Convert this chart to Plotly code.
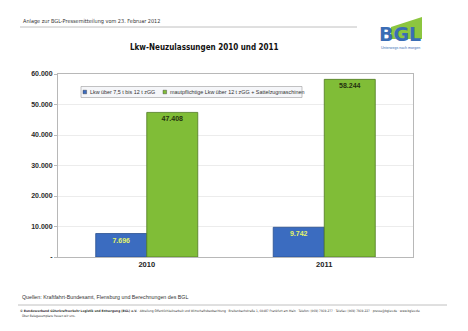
import plotly.graph_objects as go

# --- data -------------------------------------------------------------
years = ["2010", "2011"]
series_names = [
    "Lkw über 7,5 t bis 12 t zGG",
    "mautpflichtige Lkw über 12 t zGG + Sattelzugmaschinen",
]
lkw_7_5_bis_12 = [7696, 9742]
lkw_ueber_12 = [47408, 58244]
tick_values = [0, 10000, 20000, 30000, 40000, 50000, 60000]
tick_labels = ["-", "10.000", "20.000", "30.000", "40.000", "50.000", "60.000"]

title_text = "Lkw-Neuzulassungen 2010 und 2011"
header_text = "Anlage zur BGL-Pressemitteilung vom 23. Februar 2012"
source_text = "Quellen: Kraftfahrt-Bundesamt, Flensburg und Berechnungen des BGL"
footer_line1 = ("<b>© Bundesverband Güterkraftverkehr Logistik und Entsorgung (BGL) e.V.</b> · "
                "Abteilung Öffentlichkeitsarbeit und Wirtschaftsbeobachtung · Breitenbachstraße 1, "
                "60487 Frankfurt am Main · Telefon: (069) 7919-277 · Telefax: (069) 7919-227 · "
                "presse@bglev.de · www.bglev.de")
footer_line2 = "Über Belegexemplare freuen wir uns."


def fmt(v):
    return f"{v:,}".replace(",", ".")


# --- page geometry (pixels) ------------------------------------------
W, H = 468, 331
L, R, T, B = 58, 413, 74, 257


def px(x):
    return (x - L) / (R - L)


def py(y):
    return (B - y) / (B - T)


BLUE = "#3b6cc0"
GREEN = "#80bd37"
colors = [BLUE, GREEN]

fig = go.Figure()
fig.add_trace(go.Bar(
    x=years, y=lkw_7_5_bis_12, name=series_names[0],
    marker=dict(color=BLUE, line=dict(color="#2a4f8f", width=0.8)),
    text=[fmt(v) for v in lkw_7_5_bis_12], textposition="inside",
    insidetextanchor="end",
    textfont=dict(color="#e4f46a", size=7, family="Liberation Sans", weight="bold"),
))
fig.add_trace(go.Bar(
    x=years, y=lkw_ueber_12, name=series_names[1],
    marker=dict(color=GREEN, line=dict(color="#4f7a22", width=0.8)),
    text=[fmt(v) for v in lkw_ueber_12], textposition="inside",
    insidetextanchor="end",
    textfont=dict(color="#26330f", size=7, family="Liberation Sans", weight="bold"),
))

fig.update_layout(
    width=W, height=H,
    margin=dict(l=L, r=W - R, t=T, b=H - B),
    paper_bgcolor="white", plot_bgcolor="white",
    barmode="group", bargap=0.425, bargroupgap=0,
    showlegend=False,
    uniformtext=dict(minsize=5, mode="show"),
)
fig.update_xaxes(
    type="category", showline=True, linecolor="#b8b8b8", linewidth=1, mirror=True,
    ticks="", tickfont=dict(size=7.5, family="Liberation Sans", color="#222", weight="bold"),
)
fig.update_yaxes(
    range=[0, 60000], tickvals=tick_values, ticktext=tick_labels,
    showgrid=True, gridcolor="#ececec", gridwidth=1,
    showline=True, linecolor="#b8b8b8", linewidth=1, mirror=True,
    ticks="outside", ticklen=3, tickcolor="#b8b8b8",
    tickfont=dict(size=7, family="Liberation Sans", color="#2a2a2a", weight="bold"),
    zeroline=False,
)

ann = []
shapes = []

# compact legend box with the two series
shapes.append(dict(type="rect", xref="paper", yref="paper",
                   x0=px(81), x1=px(302), y0=py(97.5), y1=py(86.5),
                   fillcolor="#f5f6f9", line=dict(color="#9a9a9a", width=0.6)))
legend_x = [83, 163]
for name, col, lx in zip(series_names, colors, legend_x):
    shapes.append(dict(type="rect", xref="paper", yref="paper",
                       x0=px(lx), x1=px(lx + 3.6), y0=py(93.8), y1=py(90.2),
                       fillcolor=col, line=dict(color="#333", width=0.4)))
    ann.append(dict(text=name, x=px(lx + 4.5), y=py(92), xref="paper", yref="paper",
                    xanchor="left", yanchor="middle", showarrow=False,
                    font=dict(size=5.4, family="Liberation Sans", color="#333")))

# header line and text
ann.append(dict(text=header_text, x=px(21), y=py(22), xref="paper", yref="paper",
                xanchor="left", yanchor="middle", showarrow=False,
                font=dict(size=5.5, family="DejaVu Sans Condensed", color="#333")))
shapes.append(dict(type="line", xref="paper", yref="paper",
                   x0=px(20), x1=px(357), y0=py(27), y1=py(27),
                   line=dict(color="#b0b0b0", width=0.8)))

# chart title
ann.append(dict(text="<b>" + title_text + "</b>", x=px(204), y=py(47), xref="paper", yref="paper",
                xanchor="center", yanchor="middle", showarrow=False,
                font=dict(size=8, family="DejaVu Sans Condensed", color="#111")))

# BGL logo
shapes.append(dict(type="path", xref="paper", yref="paper",
                   path=f"M {px(391)} {py(39)} L {px(391)} {py(27)} L {px(422)} {py(17)} "
                        f"L {px(422)} {py(39)} Z",
                   fillcolor="#8cc63f", line=dict(width=0)))
ann.append(dict(text="<b>BGL</b>", x=px(400), y=py(34), xref="paper", yref="paper",
                xanchor="center", yanchor="middle", showarrow=False,
                font=dict(size=19, family="DejaVu Sans", color="#3a6db5")))
ann.append(dict(text="Unterwegs nach morgen", x=px(400), y=py(48.5), xref="paper", yref="paper",
                xanchor="center", yanchor="middle", showarrow=False,
                font=dict(size=3.6, family="Liberation Sans", color="#3a6db5")))

# sources and footer
ann.append(dict(text=source_text, x=px(20), y=py(297), xref="paper", yref="paper",
                xanchor="left", yanchor="middle", showarrow=False,
                font=dict(size=5.3, family="Liberation Sans", color="#333")))
shapes.append(dict(type="line", xref="paper", yref="paper",
                   x0=px(18), x1=px(447), y0=py(305), y1=py(305),
                   line=dict(color="#b0b0b0", width=0.8)))
ann.append(dict(text=footer_line1, x=px(18), y=py(311), xref="paper", yref="paper",
                xanchor="left", yanchor="middle", showarrow=False,
                font=dict(size=3.2, family="DejaVu Sans Condensed", color="#333")))
ann.append(dict(text=footer_line2, x=px(20), y=py(316), xref="paper", yref="paper",
                xanchor="left", yanchor="middle", showarrow=False,
                font=dict(size=3.2, family="DejaVu Sans Condensed", color="#333")))

fig.update_layout(annotations=ann, shapes=shapes)

fig.write_html("out.html")
